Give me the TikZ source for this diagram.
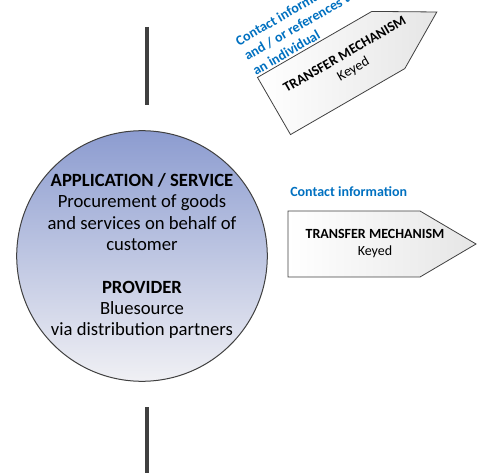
\documentclass[tikz,border=0pt]{standalone}
\usepackage{fontspec}
\setmainfont{Carlito}
\usepackage{tikz}
\usetikzlibrary{positioning}
\definecolor{lineGrey}{RGB}{64,64,64}
\definecolor{topBlue}{RGB}{140,156,208}
\definecolor{botGrey}{RGB}{240,240,244}
\definecolor{infoBlue}{RGB}{0,112,192}
\tikzset{
  appcircle/.style={circle, draw=lineGrey, line width=0.75pt, minimum size=182pt, inner sep=0pt,
    top color=topBlue, bottom color=botGrey, align=center, font=\fontsize{14}{16}\selectfont},
  transfertext/.style={align=center, inner sep=0pt, font=\fontsize{10.5}{12.75}\selectfont},
  infolabel/.style={text=infoBlue, font=\fontsize{10.5}{12.75}\selectfont\bfseries, inner sep=0pt},
  axisline/.style={draw=lineGrey, line width=3pt},
  transfer/.pic={
    \draw [draw=lineGrey, line width=0.6pt, left color=white, right color=black!10]
      (0,33)--(132,33)--(188,0)--(132,-33)--(0,-33)--cycle;
    \node [transfertext] (-txt) at (87,0) {\textbf{TRANSFER MECHANISM}\\Keyed};
  }
}

\begin{document}
\begin{tikzpicture}[x=0.75pt, y=0.75pt]
            \useasboundingbox (0,0) rectangle (477,-473);

            \coordinate (T1) at (146.5,-27);
            \coordinate (T2) at (146.5,-105);
            \coordinate (B1) at (146.5,-407);
            \coordinate (B2) at (146.5,-475);
            \draw [axisline] (T1)--(T2);
            \draw [axisline] (B1)--(B2);

            \node [appcircle] (App) at (142,-256) {\textbf{APPLICATION / SERVICE}\\Procurement of goods\\and services on behalf of\\customer\\[16pt]\textbf{PROVIDER}\\Bluesource\\via distribution partners};

            \pic (Keyed1) at (288,-244) {transfer};
            \node [infolabel, anchor=base west] (Info1) at (290,-197) {Contact information};

            \pic [rotate=30, transform shape] (Keyed2) at (274,-106) {transfer};
            \node [infolabel, align=left, rotate=30, anchor=south west] (Info2) at (256,-76) {Contact information\\and / or references to\\an individual};
\end{tikzpicture}
\end{document}
